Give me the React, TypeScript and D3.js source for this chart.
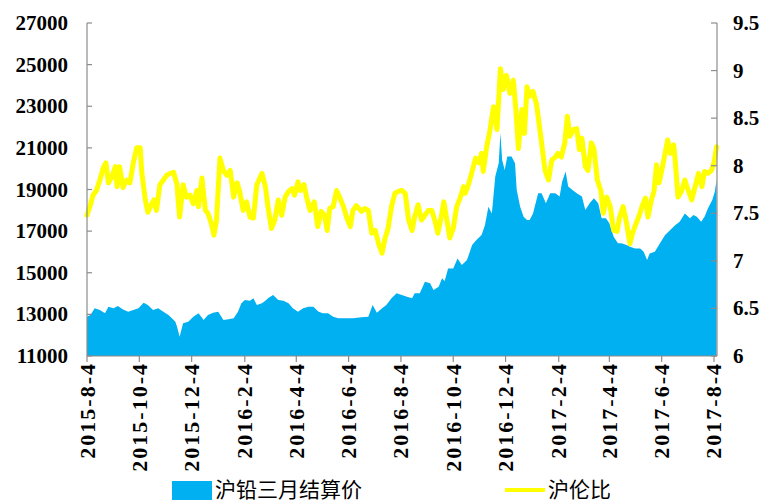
import { useMemo } from 'react';
import * as d3 from 'd3';

// 沪伦比 (SHFE/LME lead ratio)
const ratioDates = [
  '2015-08-04', '2015-08-08', '2015-08-11', '2015-08-15', '2015-08-19', '2015-08-23', '2015-08-26', '2015-08-29',
  '2015-09-02', '2015-09-06', '2015-09-08', '2015-09-11', '2015-09-15', '2015-09-19', '2015-09-23', '2015-09-27',
  '2015-10-01', '2015-10-05', '2015-10-07', '2015-10-11', '2015-10-14', '2015-10-18', '2015-10-21', '2015-10-24',
  '2015-10-28', '2015-11-01', '2015-11-05', '2015-11-09', '2015-11-13', '2015-11-17', '2015-11-18', '2015-11-20',
  '2015-11-24', '2015-11-28', '2015-12-02', '2015-12-06', '2015-12-10', '2015-12-12', '2015-12-16', '2015-12-20',
  '2015-12-23', '2015-12-27', '2015-12-30', '2016-01-02', '2016-01-06', '2016-01-10', '2016-01-14', '2016-01-18',
  '2016-01-22', '2016-01-26', '2016-01-29', '2016-02-02', '2016-02-06', '2016-02-10', '2016-02-14', '2016-02-18',
  '2016-02-24', '2016-02-28', '2016-03-02', '2016-03-06', '2016-03-10', '2016-03-14', '2016-03-18', '2016-03-22',
  '2016-03-26', '2016-03-30', '2016-04-02', '2016-04-06', '2016-04-09', '2016-04-13', '2016-04-16', '2016-04-20',
  '2016-04-25', '2016-04-29', '2016-05-03', '2016-05-07', '2016-05-10', '2016-05-13', '2016-05-17', '2016-05-21',
  '2016-05-25', '2016-05-29', '2016-06-02', '2016-06-06', '2016-06-09', '2016-06-13', '2016-06-19', '2016-06-23',
  '2016-06-27', '2016-07-01', '2016-07-05', '2016-07-09', '2016-07-13', '2016-07-16', '2016-07-20', '2016-07-24',
  '2016-07-28', '2016-08-01', '2016-08-05', '2016-08-09', '2016-08-13', '2016-08-17', '2016-08-20', '2016-08-24',
  '2016-08-28', '2016-09-01', '2016-09-05', '2016-09-09', '2016-09-13', '2016-09-16', '2016-09-20', '2016-09-23',
  '2016-09-26', '2016-09-30', '2016-10-04', '2016-10-08', '2016-10-12', '2016-10-16', '2016-10-18', '2016-10-22',
  '2016-10-26', '2016-10-30', '2016-11-03', '2016-11-06', '2016-11-08', '2016-11-12', '2016-11-16', '2016-11-20',
  '2016-11-24', '2016-11-28', '2016-12-01', '2016-12-05', '2016-12-09', '2016-12-13', '2016-12-16', '2016-12-19',
  '2016-12-23', '2016-12-26', '2016-12-29', '2017-01-01', '2017-01-05', '2017-01-09', '2017-01-12', '2017-01-15',
  '2017-01-19', '2017-01-23', '2017-01-27', '2017-01-31', '2017-02-03', '2017-02-07', '2017-02-11', '2017-02-14',
  '2017-02-17', '2017-02-21', '2017-02-25', '2017-02-28', '2017-03-03', '2017-03-07', '2017-03-10', '2017-03-14',
  '2017-03-17', '2017-03-21', '2017-03-25', '2017-03-28', '2017-04-01', '2017-04-05', '2017-04-09', '2017-04-13',
  '2017-04-16', '2017-04-20', '2017-04-24', '2017-04-28', '2017-05-01', '2017-05-05', '2017-05-09', '2017-05-12',
  '2017-05-16', '2017-05-19', '2017-05-23', '2017-05-26', '2017-05-29', '2017-06-01', '2017-06-05', '2017-06-08',
  '2017-06-11', '2017-06-14', '2017-06-18', '2017-06-20', '2017-06-23', '2017-06-27', '2017-07-01', '2017-07-05',
  '2017-07-09', '2017-07-13', '2017-07-17', '2017-07-21', '2017-07-24', '2017-07-28', '2017-08-01', '2017-08-04',
  '2017-08-07',
];
const ratioValues = [
  7.48, 7.59, 7.69, 7.74, 7.85, 7.98, 8.03, 7.82,
  7.88, 7.99, 7.78, 7.99, 7.77, 7.85, 7.82, 8.03,
  8.19, 8.19, 7.92, 7.64, 7.51, 7.59, 7.64, 7.53,
  7.80, 7.85, 7.90, 7.92, 7.93, 7.80, 7.67, 7.46,
  7.80, 7.67, 7.69, 7.60, 7.74, 7.57, 7.87, 7.53,
  7.50, 7.39, 7.27, 7.43, 8.08, 7.95, 7.90, 7.95,
  7.67, 7.82, 7.73, 7.53, 7.62, 7.46, 7.45, 7.80,
  7.92, 7.78, 7.57, 7.34, 7.43, 7.64, 7.48, 7.67,
  7.73, 7.76, 7.69, 7.83, 7.74, 7.80, 7.67, 7.53,
  7.62, 7.36, 7.52, 7.48, 7.32, 7.55, 7.57, 7.74,
  7.66, 7.57, 7.45, 7.36, 7.53, 7.58, 7.52, 7.55,
  7.53, 7.29, 7.32, 7.18, 7.08, 7.22, 7.34, 7.57,
  7.71, 7.73, 7.74, 7.71, 7.43, 7.32, 7.46, 7.59,
  7.43, 7.48, 7.53, 7.53, 7.41, 7.29, 7.46, 7.62,
  7.46, 7.24, 7.34, 7.57, 7.66, 7.78, 7.71, 7.81,
  7.94, 8.08, 8.03, 8.13, 7.94, 8.20, 8.38, 8.62,
  8.38, 9.02, 8.80, 8.95, 8.76, 8.90, 8.59, 8.18,
  8.59, 8.34, 8.83, 8.73, 8.78, 8.65, 8.45, 8.24,
  7.95, 7.85, 8.06, 8.09, 8.13, 8.09, 8.24, 8.52,
  8.31, 8.38, 8.39, 8.17, 8.29, 7.99, 7.95, 8.24,
  8.18, 7.85, 7.74, 7.50, 7.67, 7.57, 7.32, 7.31,
  7.46, 7.57, 7.40, 7.18, 7.29, 7.39, 7.48, 7.57,
  7.66, 7.46, 7.64, 7.73, 8.01, 7.82, 7.99, 8.13,
  8.27, 8.13, 8.22, 8.03, 7.67, 7.73, 7.85, 7.74,
  7.64, 7.78, 7.92, 7.78, 7.94, 7.92, 7.95, 8.03,
  8.20,
];

// 沪铅三月结算价 (SHFE lead 3rd-month settlement price)
const priceDates = [
  '2015-08-04', '2015-08-08', '2015-08-13', '2015-08-19', '2015-08-25', '2015-08-29', '2015-09-04', '2015-09-09',
  '2015-09-15', '2015-09-21', '2015-09-27', '2015-10-03', '2015-10-09', '2015-10-14', '2015-10-20', '2015-10-26',
  '2015-11-01', '2015-11-07', '2015-11-13', '2015-11-15', '2015-11-17', '2015-11-20', '2015-11-24', '2015-11-30',
  '2015-12-06', '2015-12-12', '2015-12-18', '2015-12-23', '2015-12-29', '2016-01-04', '2016-01-10', '2016-01-16',
  '2016-01-22', '2016-01-27', '2016-01-31', '2016-02-04', '2016-02-10', '2016-02-14', '2016-02-18', '2016-02-24',
  '2016-02-29', '2016-03-02', '2016-03-08', '2016-03-14', '2016-03-20', '2016-03-26', '2016-03-31', '2016-04-06',
  '2016-04-12', '2016-04-18', '2016-04-24', '2016-04-30', '2016-05-05', '2016-05-11', '2016-05-17', '2016-05-23',
  '2016-05-29', '2016-06-04', '2016-06-09', '2016-06-19', '2016-06-27', '2016-07-02', '2016-07-07', '2016-07-13',
  '2016-07-18', '2016-07-24', '2016-07-30', '2016-08-05', '2016-08-11', '2016-08-17', '2016-08-20', '2016-08-26',
  '2016-09-01', '2016-09-07', '2016-09-11', '2016-09-17', '2016-09-21', '2016-09-24', '2016-09-28', '2016-10-04',
  '2016-10-09', '2016-10-14', '2016-10-20', '2016-10-26', '2016-10-31', '2016-11-06', '2016-11-10', '2016-11-14',
  '2016-11-18', '2016-11-22', '2016-11-26', '2016-11-28', '2016-11-30', '2016-12-03', '2016-12-06', '2016-12-11',
  '2016-12-15', '2016-12-17', '2016-12-21', '2016-12-25', '2016-12-29', '2017-01-01', '2017-01-05', '2017-01-09',
  '2017-01-11', '2017-01-15', '2017-01-20', '2017-01-25', '2017-01-31', '2017-02-05', '2017-02-08', '2017-02-12',
  '2017-02-15', '2017-02-20', '2017-02-25', '2017-03-03', '2017-03-07', '2017-03-12', '2017-03-17', '2017-03-22',
  '2017-03-26', '2017-03-31', '2017-04-04', '2017-04-09', '2017-04-14', '2017-04-18', '2017-04-24', '2017-04-28',
  '2017-05-04', '2017-05-10', '2017-05-14', '2017-05-18', '2017-05-21', '2017-05-27', '2017-06-02', '2017-06-08',
  '2017-06-14', '2017-06-20', '2017-06-25', '2017-07-01', '2017-07-07', '2017-07-11', '2017-07-15', '2017-07-20',
  '2017-07-24', '2017-07-28', '2017-08-02', '2017-08-05', '2017-08-07',
];
const priceValues = [
  12890, 12970, 13290, 13210, 13050, 13370, 13290, 13400,
  13240, 13130, 13210, 13290, 13560, 13450, 13210, 13290,
  13130, 12970, 12730, 12650, 12400, 11930, 12570, 12650,
  12890, 13050, 12730, 12970, 13080, 13130, 12730, 12760,
  12810, 13130, 13530, 13690, 13660, 13770, 13450, 13530,
  13690, 13770, 13930, 13690, 13660, 13530, 13290, 13130,
  13290, 13370, 13370, 13130, 13050, 13050, 12890, 12810,
  12810, 12810, 12810, 12860, 12890, 13450, 13080, 13290,
  13450, 13770, 14010, 13930, 13850, 13770, 14010, 14010,
  14570, 14490, 14170, 14330, 14730, 14600, 15210, 15210,
  15690, 15370, 15610, 16330, 16570, 16810, 17290, 18170,
  17850, 19620, 20260, 21700, 20420, 19940, 20580, 20580,
  20260, 18980, 18170, 17690, 17530, 17530, 17850, 18500,
  18820, 18820, 18340, 18820, 18820, 18660, 19380, 19860,
  19140, 18980, 18820, 18660, 18020, 18340, 18580, 18340,
  17620, 17620, 17380, 16730, 16420, 16420, 16330, 16250,
  16170, 16170, 16010, 15610, 15930, 16010, 16420, 16810,
  17050, 17290, 17450, 17850, 17620, 17780, 17690, 17450,
  17690, 18100, 18500, 18900, 19460,
];

const xTickLabels = [
  '2015-8-4', '2015-10-4', '2015-12-4', '2016-2-4', '2016-4-4', '2016-6-4', '2016-8-4',
  '2016-10-4', '2016-12-4', '2017-2-4', '2017-4-4', '2017-6-4', '2017-8-4',
];
const leftTicks = [11000, 13000, 15000, 17000, 19000, 21000, 23000, 25000, 27000];
const rightTicks = [6, 6.5, 7, 7.5, 8, 8.5, 9, 9.5];

const W = 763;
const H = 504;
const PLOT = { left: 87, right: 717, top: 23, bottom: 356 };
const BLUE = '#00B0F0';
const YELLOW = '#FFFF00';
const AXIS = '#8C8C8C';
const SERIF = '"Times New Roman", "Liberation Serif", serif';
const CJK = '"Noto Sans CJK SC", sans-serif';

interface Pt {
  d: Date;
  v: number;
}

export default function App() {
  const chart = useMemo(() => {
    const parse = d3.timeParse('%Y-%m-%d');
    const parseTick = d3.timeParse('%Y-%-m-%-d');

    const x = d3.scaleTime()
      .domain([new Date(2015, 7, 4), new Date(2017, 7, 7, 12)])
      .range([PLOT.left, PLOT.right]);
    const yL = d3.scaleLinear().domain([11000, 27000]).range([PLOT.bottom, PLOT.top]);
    const yR = d3.scaleLinear().domain([6, 9.5]).range([PLOT.bottom, PLOT.top]);

    const price: Pt[] = priceDates.map((s, i) => ({ d: parse(s) as Date, v: priceValues[i] }));
    const ratio: Pt[] = ratioDates.map((s, i) => ({ d: parse(s) as Date, v: ratioValues[i] }));

    const area = d3.area<Pt>()
      .x((p) => x(p.d))
      .y0(yL(11000))
      .y1((p) => yL(p.v));
    const line = d3.line<Pt>()
      .x((p) => x(p.d))
      .y((p) => yR(p.v));

    const xTicks = xTickLabels.map((label) => ({ label, x: x(parseTick(label) as Date) }));

    return {
      areaPath: area(price) ?? '',
      linePath: line(ratio) ?? '',
      xTicks,
      yL,
      yR,
    };
  }, []);

  return (
    <svg
      width={W}
      height={H}
      viewBox={`0 0 ${W} ${H}`}
      style={{ position: 'absolute', left: 0, top: 0, background: '#fff' }}
    >
      <rect x={0} y={0} width={W} height={H} fill="#fff" />

      {/* price area */}
      <path d={chart.areaPath} fill={BLUE} />

      {/* ratio line */}
      <path
        d={chart.linePath}
        fill="none"
        stroke={YELLOW}
        strokeWidth={5}
        strokeLinejoin="round"
        strokeLinecap="round"
      />

      {/* left axis */}
      <line x1={PLOT.left} y1={PLOT.top} x2={PLOT.left} y2={PLOT.bottom} stroke={AXIS} strokeWidth={1.2} />
      {leftTicks.map((v) => {
        const y = chart.yL(v);
        return (
          <g key={`l${v}`}>
            <line x1={PLOT.left} y1={y} x2={PLOT.left + 5} y2={y} stroke={AXIS} strokeWidth={1.2} />
            <text
              x={68}
              y={y}
              textAnchor="end"
              dominantBaseline="central"
              fontFamily={SERIF}
              fontWeight="bold"
              fontSize={21}
              fill="#000"
            >
              {v}
            </text>
          </g>
        );
      })}

      {/* right axis */}
      <line x1={PLOT.right} y1={PLOT.top} x2={PLOT.right} y2={PLOT.bottom} stroke={AXIS} strokeWidth={1.2} />
      {rightTicks.map((v) => {
        const y = chart.yR(v);
        return (
          <g key={`r${v}`}>
            <line x1={PLOT.right - 6} y1={y} x2={PLOT.right} y2={y} stroke={AXIS} strokeWidth={1.2} />
            <text
              x={733}
              y={y}
              textAnchor="start"
              dominantBaseline="central"
              fontFamily={SERIF}
              fontWeight="bold"
              fontSize={21}
              fill="#000"
            >
              {v}
            </text>
          </g>
        );
      })}

      {/* bottom axis */}
      <line x1={PLOT.left} y1={PLOT.bottom} x2={PLOT.right} y2={PLOT.bottom} stroke={AXIS} strokeWidth={1.2} />
      {chart.xTicks.map(({ label, x }) => (
        <g key={label}>
          <line x1={x} y1={PLOT.bottom} x2={x} y2={PLOT.bottom + 6} stroke={AXIS} strokeWidth={1.2} />
          <text
            transform={`translate(${x},${PLOT.bottom + 6}) rotate(-90)`}
            textAnchor="end"
            dominantBaseline="central"
            fontFamily={SERIF}
            fontWeight="bold"
            fontSize={22}
            letterSpacing={2}
            fill="#000"
          >
            {label}
          </text>
        </g>
      ))}

      {/* legend */}
      <rect x={172} y={481} width={40} height={19} fill={BLUE} />
      <text x={215} y={488} dominantBaseline="central" fontFamily={CJK} fontSize={21} fill="#000">
        沪铅三月结算价
      </text>
      <line x1={505} y1={490} x2={545} y2={490} stroke={YELLOW} strokeWidth={4} />
      <text x={548} y={488} dominantBaseline="central" fontFamily={CJK} fontSize={21} fill="#000">
        沪伦比
      </text>
    </svg>
  );
}
